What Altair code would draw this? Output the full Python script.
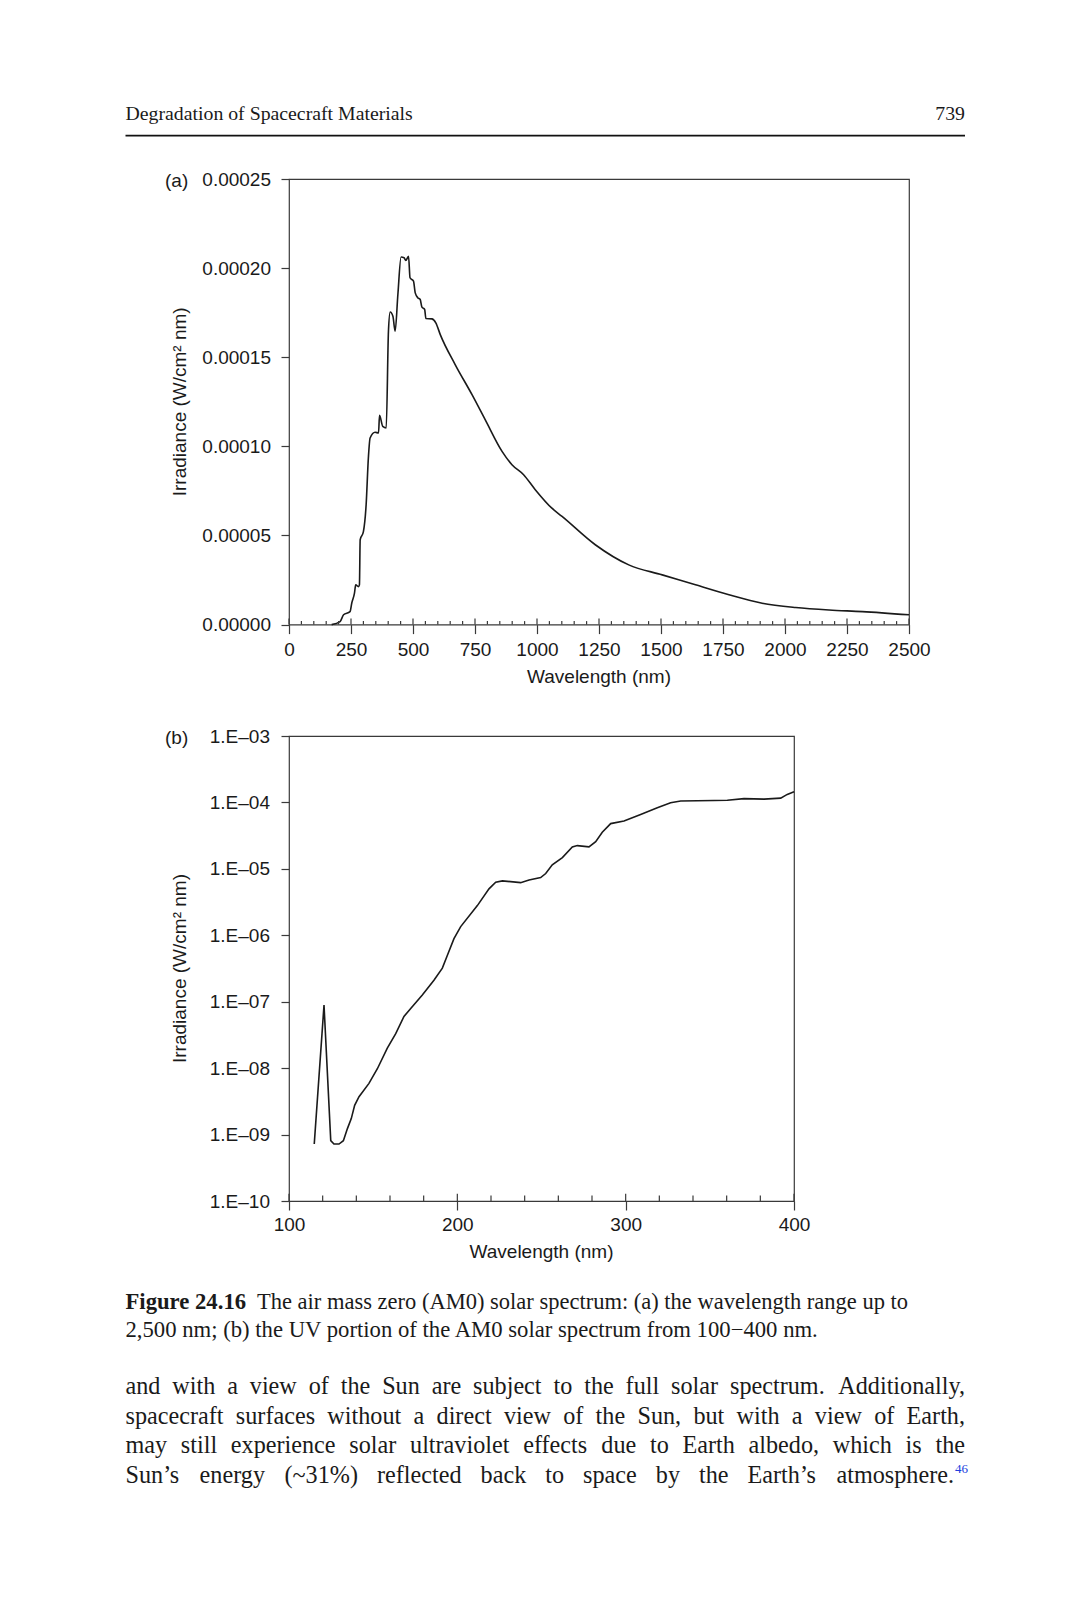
import altair as alt
import pandas as pd

# ---------------- data ----------------
A_NM = [172, 206, 220, 246, 253, 264, 269, 280, 284, 287, 300, 311, 320, 327, 347, 361, 365, 378, 392,
        401, 408, 419, 428, 439, 452, 464, 471, 482, 488, 502, 509, 520, 529, 536, 547, 552, 576, 592,
        610, 670, 738, 791, 859, 899, 946, 993, 1060, 1101, 1235, 1370, 1505, 1639, 1774, 1908, 2043,
        2178, 2312, 2500]
A_IRR = [0.0, 0.17e-5, 0.55e-5, 0.73e-5, 1.2e-5, 1.76e-5, 2.23e-5, 2.13e-5, 2.23e-5, 4.76e-5, 5.22e-5,
         6.72e-5, 9.34e-5, 10.47e-5, 10.79e-5, 10.75e-5, 11.74e-5, 11.12e-5, 11.03e-5, 16.46e-5, 17.54e-5,
         17.3e-5, 16.46e-5, 18.52e-5, 20.62e-5, 20.58e-5, 20.43e-5, 20.67e-5, 19.46e-5, 19.27e-5, 18.61e-5,
         18.33e-5, 18.24e-5, 17.81e-5, 17.68e-5, 17.17e-5, 17.15e-5, 16.93e-5, 16.27e-5, 14.59e-5, 12.9e-5,
         11.5e-5, 9.72e-5, 8.97e-5, 8.41e-5, 7.57e-5, 6.53e-5, 6.07e-5, 4.48e-5, 3.35e-5, 2.79e-5, 2.23e-5,
         1.67e-5, 1.2e-5, 0.96e-5, 0.82e-5, 0.73e-5, 0.55e-5]

B_NM = [115, 120.8, 124.8, 126.7, 129.7, 132.3, 134.7, 137, 139, 141.6, 147.5, 152.5, 158.4, 163.4,
        168.3, 172.3, 179.2, 186.1, 191.1, 194.1, 198, 202, 211.9, 218.8, 222.8, 226.8, 237.6, 242.6,
        249.5, 252.5, 256.4, 262.4, 268.3, 271.3, 278.2, 282.2, 286.1, 291.1, 299, 308.9, 318.8, 326.7,
        332.7, 352.5, 360.4, 370.3, 382.2, 392.1, 396, 400]
B_IRR = [7.2e-10, 8.9e-8, 8.1e-10, 7.2e-10, 7.2e-10, 8.1e-10, 1.23e-9, 1.74e-9, 2.75e-9, 3.72e-9, 5.9e-9,
         9.8e-9, 2.0e-8, 3.3e-8, 6.0e-8, 7.9e-8, 1.26e-7, 2.1e-7, 3.2e-7, 5.0e-7, 8.9e-7, 1.35e-6, 2.8e-6,
         5.0e-6, 6.3e-6, 6.6e-6, 6.2e-6, 6.8e-6, 7.4e-6, 8.5e-6, 1.15e-5, 1.48e-5, 2.14e-5, 2.24e-5,
         2.14e-5, 2.57e-5, 3.55e-5, 4.8e-5, 5.25e-5, 6.6e-5, 8.3e-5, 9.9e-5, 1.05e-4, 1.07e-4, 1.08e-4,
         1.14e-4, 1.12e-4, 1.16e-4, 1.32e-4, 1.45e-4]

XA_MAJOR = [0, 250, 500, 750, 1000, 1250, 1500, 1750, 2000, 2250, 2500]
XA_MINOR = [v for v in range(50, 2500, 50) if v % 250]
YA_TICKS = [0.0, 0.00005, 0.00010, 0.00015, 0.00020, 0.00025]
XB_MAJOR = [100, 200, 300, 400]
XB_MINOR = [v for v in range(120, 400, 20) if v % 100]
YB_TICKS = [1e-10, 1e-9, 1e-8, 1e-7, 1e-6, 1e-5, 1e-4, 1e-3]

HEADER = "Degradation of Spacecraft Materials"
PAGE_NO = "739"
Y_TITLE = "Irradiance (W/cm² nm)"
X_TITLE = "Wavelength (nm)"
CAP_BOLD = "Figure 24.16"
CAP_1 = "The air mass zero (AM0) solar spectrum: (a) the wavelength range up to"
CAP_2 = "2,500 nm; (b) the UV portion of the AM0 solar spectrum from 100−400 nm."
BODY = [
    "and with a view of the Sun are subject to the full solar spectrum. Additionally,",
    "spacecraft surfaces without a direct view of the Sun, but with a view of Earth,",
    "may still experience solar ultraviolet effects due to Earth albedo, which is the",
    "Sun’s energy (~31%) reflected back to space by the Earth’s atmosphere.",
]
FOOTNOTE = "46"

# ---------------- styling / layout ----------------
SANS = "Liberation Sans, Arial, Helvetica, sans-serif"
SERIF = "Liberation Serif, Times New Roman, serif"
AX = "#3a3a3a"
INK = "#1a1a1a"
WA, HA = 620, 445.6
WB, HB = 505, 465
GAP = 111
OX, OYA = 288, 177.7          # page position of plot (a)
OYB = OYA + HA + GAP          # page position of plot (b)

TW = {' ': 250, '%': 833, '(': 333, ')': 333, ',': 250, '-': 333, '.': 250, ':': 278, ';': 278,
      '~': 541, '’': 333, '−': 564}
for c in "0123456789":
    TW[c] = 500
TW.update(dict(zip("ABCDEFGHIJKLMNOPQRSTUVWXYZ",
                   [722, 667, 667, 722, 611, 556, 722, 722, 333, 389, 722, 611, 889, 722, 722, 556, 722,
                    667, 556, 611, 722, 722, 944, 722, 722, 611])))
TW.update(dict(zip("abcdefghijklmnopqrstuvwxyz",
                   [444, 500, 444, 500, 444, 333, 500, 500, 278, 278, 500, 278, 778, 500, 500, 500, 500,
                    333, 389, 278, 500, 500, 722, 500, 500, 444])))


def twidth(s, size):
    return sum(TW.get(c, 500) for c in s) * size / 1000.0


def txt(x, y, s, size, font=SANS, align="left", baseline="alphabetic", weight="normal",
        color=INK, angle=0):
    return alt.Chart(alt.Data(values=[{"t": s}])).mark_text(
        align=align, baseline=baseline, fontSize=size, font=font, fontWeight=weight,
        color=color, angle=angle
    ).encode(x=alt.value(x), y=alt.value(y), text="t:N")


def px(page_x):
    return page_x - OX


axis_common = dict(title=None, domain=False, grid=False, tickColor=AX, tickWidth=1.2,
                   labelFont=SANS, labelFontSize=19, labelColor=INK, labelFlush=False,
                   labelOverlap=False)


def inward_ticks(vals, field_scale, field_axis, h, length):
    return alt.Chart(pd.DataFrame({"nm": vals})).mark_rule(color=AX, strokeWidth=1.2).encode(
        x=alt.X("nm:Q", scale=field_scale, axis=field_axis),
        y=alt.value(h - length), y2=alt.value(h))


# ---------------- chart (a) ----------------
sc_xa = alt.Scale(domain=[0, 2500], nice=False, zero=False)
sc_ya = alt.Scale(domain=[0, 0.00025], nice=False)
ax_xa = alt.Axis(values=XA_MAJOR, format="d", tickSize=9, labelPadding=7, **axis_common)
ax_ya = alt.Axis(values=YA_TICKS, format=".5f", tickSize=8, labelPadding=10.5, **axis_common)

line_a = alt.Chart(pd.DataFrame({"nm": A_NM, "irr": A_IRR})).mark_line(
    color=INK, strokeWidth=1.6, interpolate="monotone"
).encode(
    x=alt.X("nm:Q", scale=sc_xa, axis=ax_xa),
    y=alt.Y("irr:Q", scale=sc_ya, axis=ax_ya),
)

layers_a = [
    line_a,
    inward_ticks(XA_MAJOR, sc_xa, ax_xa, HA, 6),
    inward_ticks(XA_MINOR, sc_xa, ax_xa, HA, 3.5),
    # anchor fixing the page origin (page 8,8)
    alt.Chart(alt.Data(values=[{}])).mark_rect(color="white").encode(
        x=alt.value(8 - OX), x2=alt.value(9 - OX), y=alt.value(8 - OYA), y2=alt.value(9 - OYA)),
    txt(px(124.5), 119 - OYA, HEADER, 19.8, font=SERIF),
    txt(px(964), 119 - OYA, PAGE_NO, 19.8, font=SERIF, align="right"),
    alt.Chart(alt.Data(values=[{}])).mark_rule(color="#111111", strokeWidth=1.8).encode(
        x=alt.value(px(124.5)), x2=alt.value(px(964)), y=alt.value(134.3 - OYA)),
    txt(px(164), 7.5, "(a)", 19),
    txt(px(185), HA / 2, Y_TITLE, 19, align="center", angle=270),
    txt(WA / 2, HA + 58, X_TITLE, 19, align="center"),
]
chart_a = alt.layer(*layers_a).properties(width=WA, height=HA)

# ---------------- chart (b) ----------------
sc_xb = alt.Scale(domain=[100, 400], nice=False, zero=False)
sc_yb = alt.Scale(type="log", domain=[1e-10, 1e-3], nice=False)
ax_xb = alt.Axis(values=XB_MAJOR, format="d", tickSize=9, labelPadding=5, **axis_common)
ax_yb = alt.Axis(values=YB_TICKS, tickSize=8, labelPadding=11.5,
                 labelExpr="'1.E–' + format(-round(log(datum.value) / LN10), '02d')",
                 **axis_common)

line_b = alt.Chart(pd.DataFrame({"nm": B_NM, "irr": B_IRR})).mark_line(
    color=INK, strokeWidth=1.6, interpolate="linear"
).encode(
    x=alt.X("nm:Q", scale=sc_xb, axis=ax_xb),
    y=alt.Y("irr:Q", scale=sc_yb, axis=ax_yb),
)

layers_b = [
    line_b,
    inward_ticks(XB_MAJOR, sc_xb, ax_xb, HB, 7.3),
    inward_ticks(XB_MINOR, sc_xb, ax_xb, HB, 5.5),
    txt(px(164), 7.5, "(b)", 19),
    txt(px(185), HB / 2, Y_TITLE, 19, align="center", angle=270),
    txt(WB / 2, HB + 57, X_TITLE, 19, align="center"),
]

# caption
layers_b.append(txt(px(124.5), 1306.8 - OYB, CAP_BOLD, 22.7, font=SERIF, weight="bold"))
layers_b.append(txt(px(256), 1306.8 - OYB, CAP_1, 22.5, font=SERIF))
layers_b.append(txt(px(124.5), 1335.3 - OYB, CAP_2, 22.7, font=SERIF))

# justified body text
BODY_SIZE = 24.2
BODY_BASE = [1392.4, 1422.0, 1451.5, 1481.2]
for i, line in enumerate(BODY):
    words = line.split(" ")
    left = 124.5
    right = 964.0 if i < len(BODY) - 1 else 953.0
    nat = sum(twidth(w, BODY_SIZE) for w in words)
    gap = (right - left - nat) / (len(words) - 1)
    xcur = left
    yb = BODY_BASE[i] - OYB
    for j, w in enumerate(words):
        if j == len(words) - 1:
            layers_b.append(txt(px(right), yb, w, BODY_SIZE, font=SERIF, align="right"))
        else:
            layers_b.append(txt(px(xcur), yb, w, BODY_SIZE, font=SERIF))
            xcur += twidth(w, BODY_SIZE) + gap
layers_b.append(txt(px(954), BODY_BASE[3] - 9.5 - OYB, FOOTNOTE, 13, font=SERIF, color="#2040dd"))

chart_b = alt.layer(*layers_b).properties(width=WB, height=HB)

chart = alt.vconcat(chart_a, chart_b, spacing=GAP, bounds="flush").properties(
    padding=0, background="white"
).configure_view(stroke=AX, strokeWidth=1.2)

chart.save("out.html", embed_options={"renderer": "svg", "actions": False})
